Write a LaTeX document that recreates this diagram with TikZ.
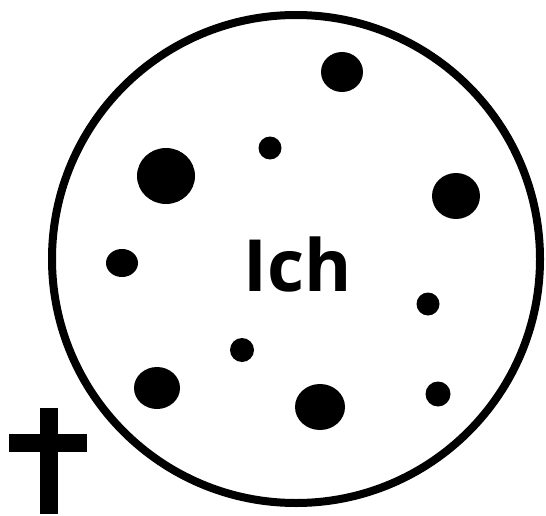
\documentclass[tikz,border=0pt]{standalone}
\usepackage{fontspec}
\setmainfont{Open Sans}
\begin{document}
\begin{tikzpicture}[x=1pt,y=-1pt,
  dot/.style={fill=black,draw=none},
  lbl/.style={font=\fontsize{72}{72}\selectfont\bfseries,inner sep=0pt}]
\useasboundingbox (0,0) rectangle (546,516);
\node[circle,draw=black,line width=8pt,minimum size=488pt,inner sep=0pt] (ich) at (296,259) {};
\node[lbl] (txt) at (298,264) {Ich};
\fill[dot] (342,72) ellipse [x radius=21,y radius=20];
\fill[dot] (270,148) circle (11.5);
\fill[dot] (166,176) ellipse [x radius=29,y radius=28];
\fill[dot] (456,196) ellipse [x radius=24,y radius=23];
\fill[dot] (122,263) ellipse [x radius=16,y radius=14];
\fill[dot] (428,304) circle (11.5);
\fill[dot] (242,350) circle (12);
\fill[dot] (157,388) ellipse [x radius=23,y radius=21];
\fill[dot] (320,407) ellipse [x radius=25,y radius=23];
\fill[dot] (438,394) circle (12.5);
% cross
\fill[black] (40,408) rectangle (58,514);
\fill[black] (9,434) rectangle (87,452);
\end{tikzpicture}
\end{document}
